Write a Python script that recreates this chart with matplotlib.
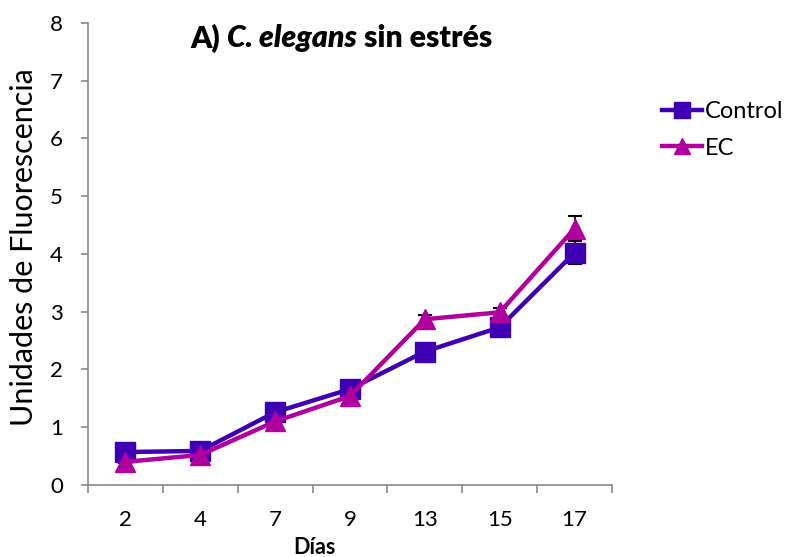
import matplotlib
matplotlib.use('Agg')
import matplotlib.pyplot as plt
import numpy as np

plt.rcParams['font.family'] = ['Lato', 'DejaVu Sans']

days = ['2', '4', '7', '9', '13', '15', '17']
control = [0.57, 0.59, 1.26, 1.66, 2.31, 2.73, 4.02]
control_err = [0.03, 0.03, 0.04, 0.04, 0.05, 0.08, 0.20]
ec = [0.40, 0.52, 1.10, 1.54, 2.87, 2.99, 4.44]
ec_err = [0.02, 0.03, 0.04, 0.04, 0.08, 0.08, 0.22]

c_control = '#3F00B4'
c_ec = '#B0009E'

fig = plt.figure(figsize=(7.85, 5.57), dpi=100)
ax = fig.add_axes([0.1121, 0.1293, 0.6675, 0.8294])

x = np.arange(len(days))
ax.errorbar(x, control, yerr=control_err, fmt='none', ecolor='black',
            elinewidth=1.2, capsize=5, capthick=1.5, zorder=1)
ax.errorbar(x, ec, yerr=ec_err, fmt='none', ecolor='black',
            elinewidth=1.2, capsize=5, capthick=1.5, zorder=1)
ax.plot(x, control, color=c_control, marker='s', markersize=15, linewidth=3.2,
        label='Control', zorder=3)
ax.plot(x, ec, color=c_ec, marker='^', markersize=15, linewidth=3.2,
        label='EC', zorder=4)

ax.set_xlim(-0.5, len(days) - 0.5)
ax.set_ylim(0, 8)
ax.set_yticks(range(0, 9))
ax.set_xticks(np.arange(-0.5, len(days), 1.0))
ax.set_xticklabels([])
ax.set_xticks(x, minor=True)
ax.set_xticklabels(days, minor=True)
ax.tick_params(axis='x', which='major', length=6, width=1.2, direction='out', color='#888888')
ax.tick_params(axis='x', which='minor', length=0, labelsize=16, pad=18)
ax.tick_params(axis='y', length=5, width=1.2, direction='out', color='#888888',
               labelsize=16, pad=13)

for s in ['top', 'right']:
    ax.spines[s].set_visible(False)
for s in ['left', 'bottom']:
    ax.spines[s].set_color('#888888')
    ax.spines[s].set_linewidth(1.2)

ax.set_ylabel('Unidades de Fluorescencia', fontsize=22)
ax.yaxis.set_label_coords(-0.095, 0.514)
ax.set_xlabel('Días', fontsize=15.5, fontweight='bold')
ax.xaxis.set_label_coords(0.433, -0.113)

# titulo en tres partes (negrita / negrita cursiva / negrita)
fig.canvas.draw()
renderer = fig.canvas.get_renderer()
parts = [('A) ', 'normal'), ('C. elegans', 'italic'), (' sin estrés', 'normal')]
x0 = 190 / 785
for s, style in parts:
    t = fig.text(x0, 1 - 38 / 557, s, fontsize=21.7, fontweight='heavy', style=style,
                 ha='left', va='center')
    bb = t.get_window_extent(renderer)
    x0 = x0 + bb.width / fig.bbox.width

ax.legend(loc='center left', bbox_to_anchor=(662 / 785, 1 - 130 / 557),
          bbox_transform=fig.transFigure, frameon=False, borderpad=0, borderaxespad=0,
          fontsize=17, handlelength=1.7, markerscale=0.8, labelspacing=0.65,
          handletextpad=0.1)

fig.savefig('out.png', dpi=100)
